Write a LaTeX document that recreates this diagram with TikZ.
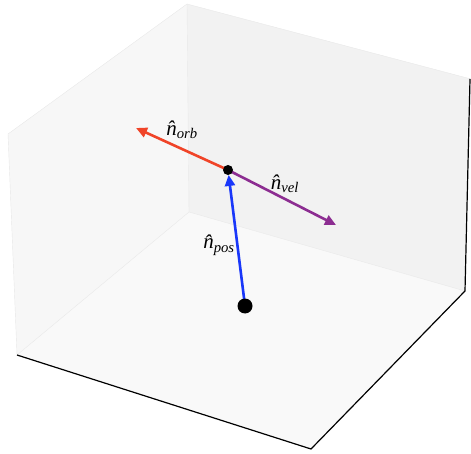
\documentclass[tikz,border=0pt]{standalone}
\usepackage{fontspec}
\setmainfont{Liberation Serif}
\usetikzlibrary{arrows.meta,positioning}
\definecolor{OrbRed}{RGB}{240,68,40}
\definecolor{VelPurple}{RGB}{140,45,145}
\definecolor{PosBlue}{RGB}{25,55,250}
\definecolor{PaneLeft}{RGB}{247,247,247}
\definecolor{PaneRight}{RGB}{242,242,242}
\definecolor{PaneFloor}{RGB}{249,249,249}
\definecolor{PaneEdge}{RGB}{232,232,232}

\begin{document}
\begin{tikzpicture}[x=1pt,y=-1pt,
  vec/.style={line width=2.6pt,-{Triangle[length=11pt,width=10pt]}},
  dot/.style={circle,fill=black,inner sep=0pt,minimum size=#1},
  lab/.style={font=\fontsize{21}{24}\selectfont\itshape,inner sep=1pt}]
  \useasboundingbox (0,0) rectangle (471,454);
  % panes of the box
  \fill[PaneLeft] (8,134) -- (187,4) -- (189,212) -- (17,355) -- cycle;
  \fill[PaneRight] (187,4) -- (471,79) -- (465,291) -- (189,212) -- cycle;
  \fill[PaneFloor] (17,355) -- (189,212) -- (465,291) -- (311,449) -- cycle;
  \draw[PaneEdge] (8,134) -- (187,4) -- (471,79);
  \draw[PaneEdge] (187,4) -- (189,212) -- (17,355);
  \draw[PaneEdge] (189,212) -- (465,291);
  \draw[PaneEdge] (8,134) -- (17,355);
  \draw[black,line width=1.2pt] (17,355) -- (311,449) -- (465,291) -- (470,79);
  % unit vectors
  \coordinate (sat) at (228,170);
  \coordinate (origin) at (245,306);
  \coordinate (orbtip) at (136,128);
  \coordinate (veltip) at (336,225);
  \draw[vec,OrbRed] (sat) -- (orbtip);
  \draw[vec,VelPurple] (sat) -- (veltip);
  \draw[vec,PosBlue,shorten >=5pt] (origin) -- (sat);
  \node[dot=10pt] (satdot) at (sat) {};
  \node[dot=15pt] (origindot) at (origin) {};
  \node[lab] (orblab) at (182,130) {n̂\textsubscript{orb}};
  \node[lab] (vellab) at (285,184) {n̂\textsubscript{vel}};
  \node[lab] (poslab) at (219,245) {n̂\textsubscript{pos}};
\end{tikzpicture}
\end{document}
